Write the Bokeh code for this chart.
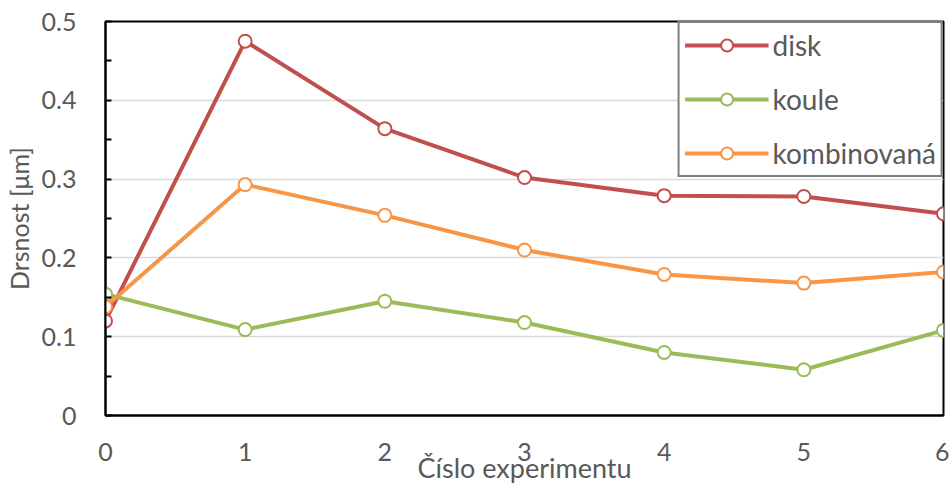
from bokeh.plotting import figure
from bokeh.models import FixedTicker, CustomJSTickFormatter, Legend, LegendItem, Range1d
from bokeh.embed import file_html
from bokeh.resources import INLINE

experiment = [0, 1, 2, 3, 4, 5, 6]
disk = [0.120, 0.475, 0.364, 0.302, 0.279, 0.278, 0.256]
koule = [0.154, 0.109, 0.145, 0.118, 0.080, 0.058, 0.108]
kombinovana = [0.138, 0.293, 0.254, 0.210, 0.179, 0.168, 0.182]
y_ticks = [0, 0.1, 0.2, 0.3, 0.4, 0.5]
y_minor = [0.05, 0.15, 0.25, 0.35, 0.45]

FONT = "Lato"
TXT = "#595959"

p = figure(width=949, height=488, output_backend="svg", toolbar_location=None,
           x_range=Range1d(0, 6), y_range=Range1d(0, 0.5),
           min_border_left=105, min_border_top=21, min_border_right=6, min_border_bottom=73)
p.outline_line_color = "black"
p.outline_line_width = 2
p.background_fill_color = "white"
p.border_fill_color = "white"

p.xgrid.visible = False
p.ygrid.grid_line_color = "#D9D9D9"
p.ygrid.grid_line_width = 1.5
p.ygrid.ticker = FixedTicker(ticks=y_ticks)

fmt = CustomJSTickFormatter(code="var s = tick.toFixed(1); return s.endsWith('.0') ? s.slice(0, -2) : s;")

xa = p.xaxis[0]
xa.ticker = FixedTicker(ticks=experiment)
xa.formatter = fmt
xa.axis_line_color = "black"
xa.axis_line_width = 2
xa.major_tick_in = 0
xa.major_tick_out = 0
xa.minor_tick_in = 0
xa.minor_tick_out = 0
xa.major_label_standoff = 27
xa.major_label_text_font = FONT
xa.major_label_text_font_size = "25px"
xa.major_label_text_color = TXT
xa.axis_label = "Číslo experimentu"
xa.axis_label_text_font = FONT
xa.axis_label_text_font_size = "27px"
xa.axis_label_text_font_style = "normal"
xa.axis_label_text_color = TXT
xa.axis_label_standoff = -13

ya = p.yaxis[0]
ya.ticker = FixedTicker(ticks=y_ticks, minor_ticks=y_minor)
ya.formatter = fmt
ya.axis_line_color = "black"
ya.axis_line_width = 2
ya.major_tick_in = 6
ya.major_tick_out = 0
ya.major_tick_line_width = 2
ya.minor_tick_in = 6
ya.minor_tick_out = 0
ya.minor_tick_line_width = 2
ya.major_tick_line_color = "black"
ya.minor_tick_line_color = "black"
ya.major_label_standoff = 29
ya.major_label_text_font = FONT
ya.major_label_text_font_size = "25px"
ya.major_label_text_color = TXT
ya.axis_label = "Drsnost [μm]"
ya.axis_label_text_font = FONT
ya.axis_label_text_font_size = "25px"
ya.axis_label_text_font_style = "normal"
ya.axis_label_text_color = TXT
ya.axis_label_standoff = 5

series = [("disk", disk, "#C0504D"), ("koule", koule, "#9BBB59"), ("kombinovaná", kombinovana, "#F79646")]
items = []
for name, vals, col in series:
    l = p.line(experiment, vals, line_color=col, line_width=4)
    c = p.scatter(experiment, vals, marker="circle", size=13, fill_color="white",
                  line_color=col, line_width=2)
    items.append(LegendItem(label=name, renderers=[l, c]))

legend = Legend(items=items, location="top_right")
legend.border_line_color = "black"
legend.border_line_width = 2
legend.background_fill_color = "white"
legend.background_fill_alpha = 1
legend.padding = 5
legend.margin = 0
legend.spacing = 20
legend.glyph_width = 84
legend.glyph_height = 30
legend.label_height = 30
legend.label_standoff = 4
legend.label_text_font = FONT
legend.label_text_font_size = "28px"
legend.label_text_color = TXT
legend.label_text_baseline = "middle"
p.add_layout(legend, "center")

open("out.html", "w").write(file_html(p, INLINE))
